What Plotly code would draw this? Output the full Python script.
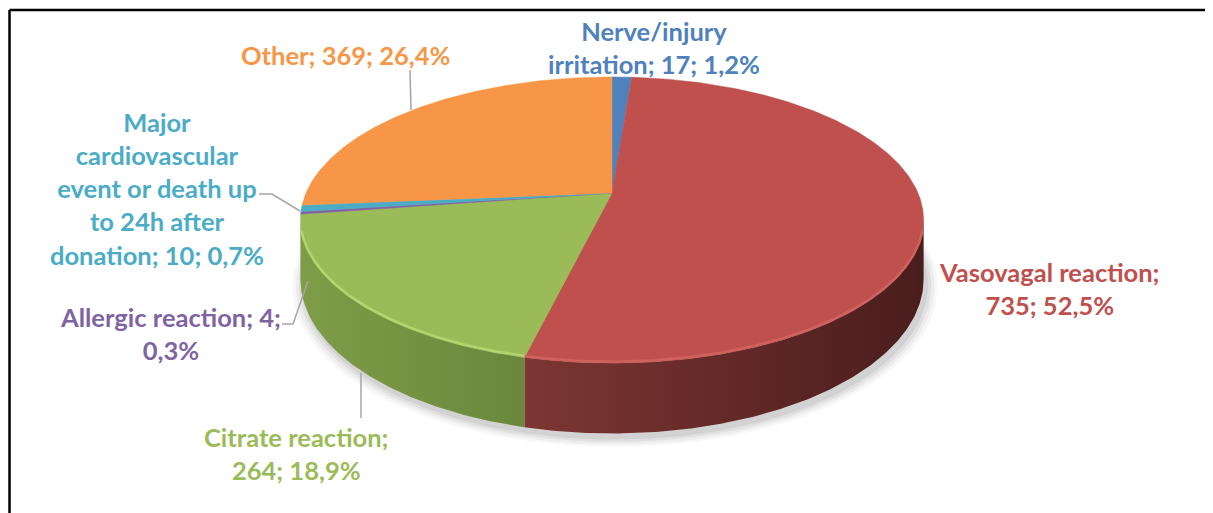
import numpy as np
import plotly.graph_objects as go

# ---------------- data ----------------
categories = ["Nerve/injury irritation", "Vasovagal reaction", "Citrate reaction",
              "Allergic reaction", "Major cardiovascular event or death up to 24h after donation",
              "Other"]
values = [17, 735, 264, 4, 10, 369]
label_templates = [
    "Nerve/injury<br>irritation; {v}; {p}",
    "Vasovagal reaction;<br>{v}; {p}",
    "Citrate reaction;<br>{v}; {p}",
    "Allergic reaction; {v};<br>{p}",
    "Major<br>cardiovascular<br>event or death up<br>to 24h after<br>donation; {v}; {p}",
    "Other; {v}; {p}",
]
top_colors = ["#4F81BD", "#C0504D", "#9BBB59", "#8064A2", "#4BACC6", "#F79646"]
rim_colors = ["#6a96cc", "#cf625e", "#b4d46e", "#9478b4", "#66c0d8", "#f9a865"]
side_left = ["#3d6594", "#7d3633", "#7f9c48", "#5f4a7a", "#3a869b", "#c0753a"]
side_right = ["#2f4f73", "#4a1d1d", "#6a883b", "#4a3a60", "#2e6a7a", "#a0612f"]
label_colors = top_colors
label_pos = [(654, 47), (1049, 288), (296, 453), (170, 333), (157, 188), (345, 55)]

# ---------------- geometry (styles) ----------------
CX, CY, RX, RY, K, DEPTH = 612, 193, 306, 138, 0.189, 57
W, H = 1213, 513
OFF = 8  # page body margin compensation
VIS = np.degrees(np.arcsin(K))  # side wall visible from 90+VIS to 270-VIS


def proj(theta_deg, z=0.0):
    t = np.radians(theta_deg)
    u = np.sin(t)
    v = -np.cos(t)
    w = 1.0 / (1.0 - K * v)
    return CX + RX * u * w, CY + RY * v * w + DEPTH * z * w


total = sum(values)
fracs = [v / total for v in values]
starts = np.concatenate([[0], np.cumsum(fracs)[:-1]]) * 360
ends = np.cumsum(fracs) * 360

fig = go.Figure()

# soft shadow under the pie
th_all = np.linspace(0, 360, 361)
for sc, op in [(1.035, 0.03), (1.025, 0.04), (1.015, 0.05), (1.005, 0.06)]:
    bx, by = proj(th_all, 1.0)
    bx = CX + (bx - CX) * sc + 3
    by = CY + (by - CY) * sc + 5
    fig.add_trace(go.Scatter(x=bx, y=by, mode="lines", fill="toself",
                             fillcolor=f"rgba(0,0,0,{op})", line=dict(width=0),
                             hoverinfo="skip", showlegend=False))

# side walls (front half only)
for i in range(len(values)):
    a = max(starts[i], 90 + VIS)
    b = min(ends[i], 270 - VIS)
    if b <= a:
        continue
    th = np.linspace(a, b, max(int((b - a) * 2), 3))
    tx, ty = proj(th, 0.0)
    bx, by = proj(th[::-1], 1.0)
    xs = np.concatenate([tx, bx, tx[:1]])
    ys = np.concatenate([ty, by, ty[:1]])
    fig.add_trace(go.Scatter(
        x=xs, y=ys, mode="lines", fill="toself", line=dict(width=0),
        fillgradient=dict(type="horizontal",
                          colorscale=[[0, side_left[i]], [1, side_right[i]]],
                          start=float(min(xs)), stop=float(max(xs))),
        hoverinfo="skip", showlegend=False))

# top faces
for i in range(len(values)):
    a, b = starts[i], ends[i]
    th = np.linspace(a, b, max(int((b - a) * 2), 3))
    tx, ty = proj(th, 0.0)
    xs = np.concatenate([[CX], tx, [CX]])
    ys = np.concatenate([[CY], ty, [CY]])
    fig.add_trace(go.Scatter(x=xs, y=ys, mode="lines", fill="toself",
                             fillcolor=top_colors[i], line=dict(width=0.5, color=top_colors[i]),
                             hoverinfo="skip", showlegend=False))

# light rim along the front edge
for i in range(len(values)):
    a = max(starts[i], 95 + VIS)
    b = min(ends[i], 265 - VIS)
    if b <= a:
        continue
    th = np.linspace(a, b, max(int((b - a) * 2), 3))
    tx, ty = proj(th, 0.0)
    fig.add_trace(go.Scatter(x=tx, y=ty - 1.5, mode="lines",
                             line=dict(width=2.5, color=rim_colors[i]),
                             hoverinfo="skip", showlegend=False))

# labels
for i in range(len(values)):
    pct = f"{fracs[i] * 100:.1f}%".replace(".", ",")
    txt = label_templates[i].format(v=values[i], p=pct)
    x, y = label_pos[i]
    fig.add_annotation(x=x, y=y, xref="x", yref="y", text=txt, showarrow=False,
                       xanchor="center", yanchor="middle", align="center",
                       font=dict(family="Lato", size=25.5, color=label_colors[i], weight="bold"))

leader = "#A6A6A6"
shapes = [
    dict(type="path", path="M 410 70 L 411 110", line=dict(color=leader, width=1.5)),
    dict(type="path", path="M 259 194 L 272 194 L 300 211", line=dict(color=leader, width=1.5)),
    dict(type="path", path="M 282 324 L 293 324 L 308 281", line=dict(color=leader, width=1.5)),
    dict(type="path", path="M 361 373 L 361 418", line=dict(color=leader, width=1.5)),
    # chart frame: only top and left edges fall inside the picture
    dict(type="line", x0=9.5, y0=10, x1=1300, y1=10, line=dict(color="black", width=2.5)),
    dict(type="line", x0=9.5, y0=10, x1=9.5, y1=600, line=dict(color="black", width=2.5)),
]
for s in shapes:
    s.update(xref="x", yref="y", layer="above")
    fig.add_shape(**s)

fig.update_layout(
    width=W, height=H, margin=dict(l=0, r=0, t=0, b=0),
    paper_bgcolor="white", plot_bgcolor="white",
    xaxis=dict(range=[OFF, W + OFF], visible=False, fixedrange=True),
    yaxis=dict(range=[H + OFF, OFF], visible=False, fixedrange=True),
    showlegend=False,
)
fig.write_html("out.html")
